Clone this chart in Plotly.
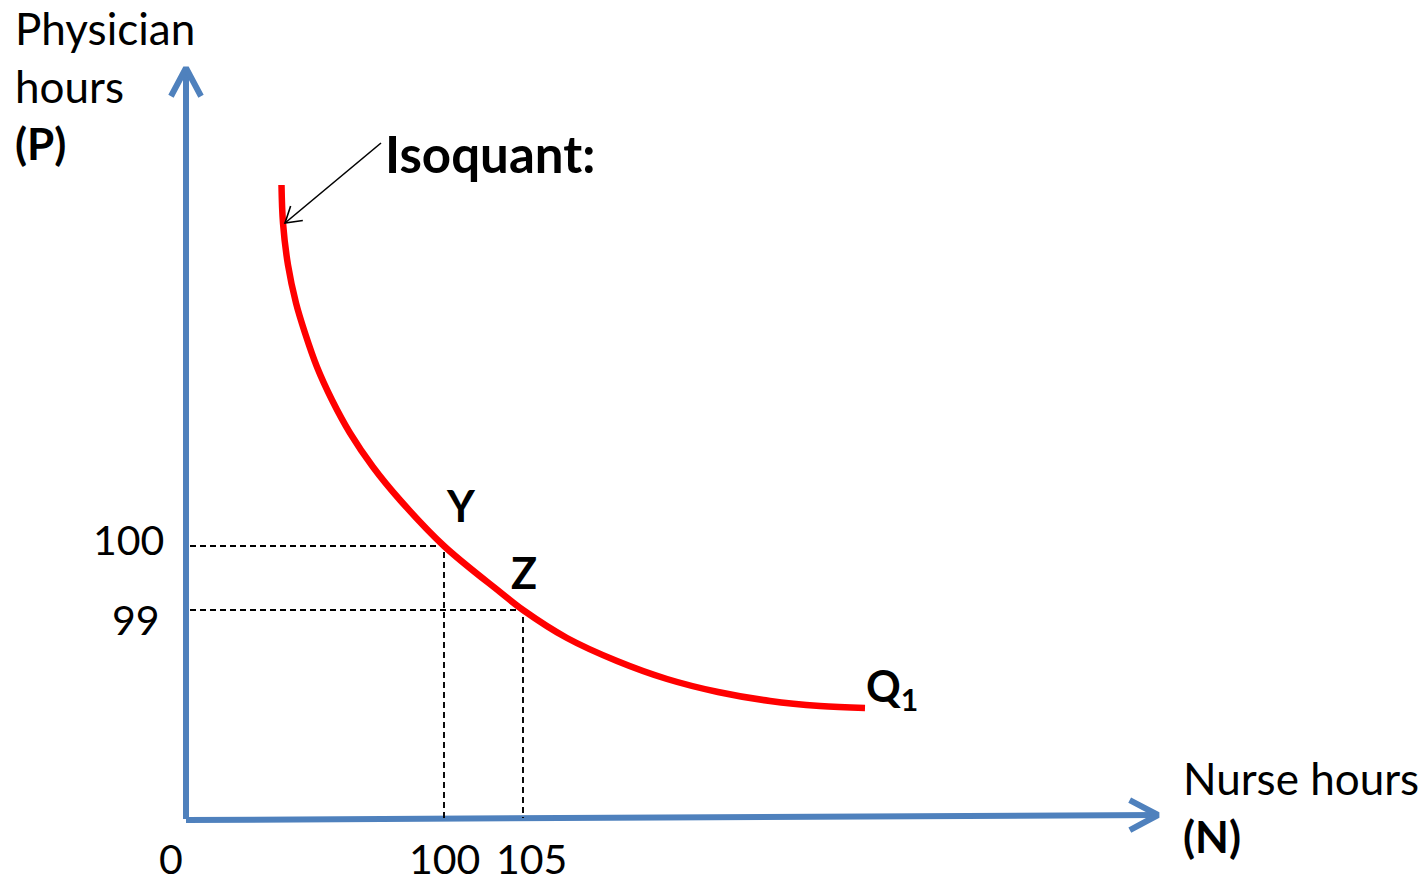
import numpy as np
import plotly.graph_objects as go

# diagram units: origin where the two axes meet, 1 unit = 1 screen pixel
# isoquant Q1
curve_x = [95.5, 97, 102, 110, 119, 131, 146, 164, 187, 214, 258, 314, 337,
           381, 431, 481, 532, 584, 634, 679]
curve_y = [635, 597, 555, 517, 487, 453, 420, 387, 353, 320, 274, 228, 210,
           182, 159, 141, 128, 119, 114, 112]

# points Y and Z on the isoquant
point_names = ['Y', 'Z']
point_x = [258, 337]
point_y = [274, 210]

x_tick_labels = ['0', '100', '105']
x_tick_pos = [-15, 258, 345]
y_tick_labels = ['100', '99']
y_tick_pos = [281, 201]

BLUE = '#4F81BD'
FONT = 'Lato'

fig = go.Figure()


def chevron(tip, back, length, spread):
    # two arms of an open arrowhead pointing at tip, coming from back
    tip = np.array(tip, float)
    d = np.array(back, float) - tip
    d = d / np.hypot(*d)
    a = np.radians(spread)
    rot = lambda v, t: np.array([v[0]*np.cos(t) - v[1]*np.sin(t), v[0]*np.sin(t) + v[1]*np.cos(t)])
    p1 = tip + rot(d, a) * length
    p2 = tip + rot(d, -a) * length
    return [p1[0], tip[0], p2[0]], [p1[1], tip[1], p2[1]]


# axes with arrows
ax_lines = [((0, 1), (0, 752)), ((0, 0), (972, 5))]
for start, end in ax_lines:
    fig.add_trace(go.Scatter(x=[start[0], end[0]], y=[start[1], end[1]], mode='lines',
                             line=dict(color=BLUE, width=6), hoverinfo='skip'))
    hx, hy = chevron(end, start, 32, 28)
    fig.add_trace(go.Scatter(x=hx, y=hy, mode='lines',
                             line=dict(color=BLUE, width=6), hoverinfo='skip'))

# dashed guides from Y and Z to the axes
for px, py in zip(point_x, point_y):
    fig.add_trace(go.Scatter(x=[4, px, px], y=[py, py, 2], mode='lines',
                             line=dict(color='black', width=1.9, dash='6px,4px'),
                             hoverinfo='skip'))

# isoquant
fig.add_trace(go.Scatter(x=curve_x, y=curve_y, mode='lines', line_shape='spline',
                         line=dict(color='#FF0000', width=6.5), hoverinfo='skip'))

# pointer to the isoquant
p_start = (195, 677)
p_tip = (99, 597)
fig.add_trace(go.Scatter(x=[p_start[0], p_tip[0]], y=[p_start[1], p_tip[1]], mode='lines',
                         line=dict(color='black', width=1.6), hoverinfo='skip'))
hx, hy = chevron(p_tip, p_start, 18, 32)
fig.add_trace(go.Scatter(x=hx, y=hy, mode='lines',
                         line=dict(color='black', width=1.6), hoverinfo='skip'))


def label(text, x, y, size, xanchor='center', bold=False):
    if bold:
        text = '<b>' + text + '</b>'
    fig.add_annotation(x=x, y=y, text=text, showarrow=False, xanchor=xanchor,
                       yanchor='middle', font=dict(family=FONT, size=size, color='black'))


label('Physician', -173, 792, 44, 'left')
label('hours', -173, 734, 44, 'left')
label('(P)', -173, 677, 44, 'left', bold=True)
label('Isoquant:', 197, 667, 51, 'left', bold=True)
label('Nurse hours', 995, 42, 44, 'left')
label('(N)', 995, -16, 44, 'left', bold=True)
label('Q<sub>1</sub>', 706, 132, 43, bold=True)

for name, px, py, dx, dy in zip(point_names, point_x, point_y, [17, 1], [41, 38]):
    label(name, px + dx, py + dy, 43, bold=True)

for t, p in zip(x_tick_labels, x_tick_pos):
    label(t, p, -38, 41)
for t, p, right in zip(y_tick_labels, y_tick_pos, [-20, -24]):
    label(t, right, p, 41, 'right')

# the page body has an 8px margin, so the figure is 8px smaller and the ranges shifted
fig.update_layout(
    width=1419, height=871,
    margin=dict(l=0, r=0, t=0, b=0),
    paper_bgcolor='white', plot_bgcolor='white',
    showlegend=False,
    xaxis=dict(range=[-178, 1241], visible=False, fixedrange=True),
    yaxis=dict(range=[-59, 812], visible=False, fixedrange=True),
)

fig.write_html('out.html')
